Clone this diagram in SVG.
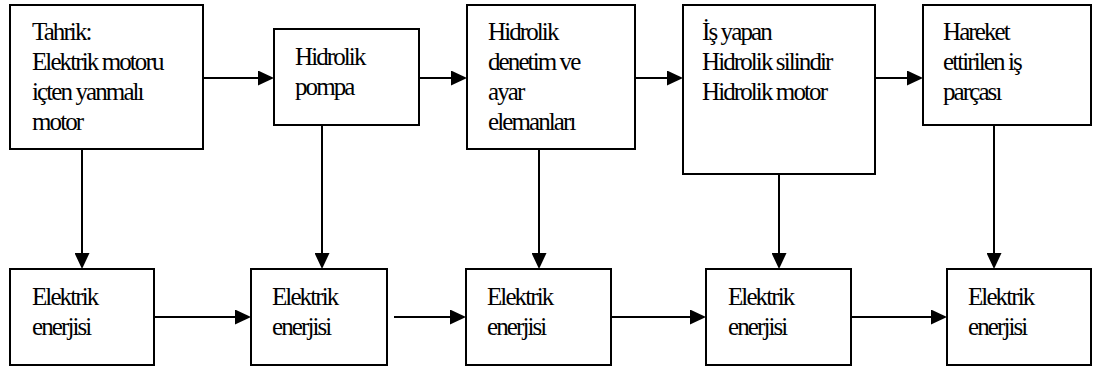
<svg xmlns="http://www.w3.org/2000/svg" width="1097" height="368" viewBox="0 0 1097 368">
  <style>
    .box { fill: #fff; stroke: #000; stroke-width: 2; }
    .lbl { font-family: 'Liberation Serif', 'Times New Roman', serif; font-size: 25px; letter-spacing: -1.9px; fill: #000; }
    .con { stroke: #000; stroke-width: 2; fill: none; marker-end: url(#arr); }
  </style>
  <defs>
    <marker id="arr" markerUnits="userSpaceOnUse" markerWidth="16" markerHeight="15" refX="6" refY="7.5" orient="auto">
      <path d="M0,0 L16,7.5 L0,15 Z" fill="#000"/>
    </marker>
  </defs>
  <rect width="1097" height="368" fill="#fff"/>

  <g id="connectors">
    <line class="con" x1="203" y1="78" x2="264" y2="78"/>
    <line class="con" x1="419" y1="78" x2="457" y2="78"/>
    <line class="con" x1="635" y1="78" x2="673" y2="78"/>
    <line class="con" x1="875" y1="78" x2="913" y2="78"/>
    <line class="con" x1="82" y1="149" x2="82" y2="259"/>
    <line class="con" x1="322" y1="125" x2="322" y2="259"/>
    <line class="con" x1="539" y1="149" x2="539" y2="259"/>
    <line class="con" x1="779" y1="174" x2="779" y2="259"/>
    <line class="con" x1="994" y1="125" x2="994" y2="259"/>
    <line class="con" x1="154" y1="317" x2="241" y2="317"/>
    <line class="con" x1="394" y1="317" x2="456" y2="317"/>
    <line class="con" x1="611" y1="317" x2="696" y2="317"/>
    <line class="con" x1="851" y1="317" x2="937" y2="317"/>
  </g>

  <g id="tahrik">
    <rect class="box" x="10" y="5" width="193" height="144"/>
    <text class="lbl" x="32" y="40">Tahrik:</text>
    <text class="lbl" x="32" y="70">Elektrik motoru</text>
    <text class="lbl" x="32" y="100">içten yanmalı</text>
    <text class="lbl" x="32" y="130">motor</text>
  </g>
  <g id="pompa">
    <rect class="box" x="274" y="29" width="145" height="96"/>
    <text class="lbl" x="295" y="65">Hidrolik</text>
    <text class="lbl" x="295" y="95">pompa</text>
  </g>
  <g id="denetim">
    <rect class="box" x="467" y="5" width="168" height="144"/>
    <text class="lbl" x="488" y="40">Hidrolik</text>
    <text class="lbl" x="488" y="70">denetim ve</text>
    <text class="lbl" x="488" y="100">ayar</text>
    <text class="lbl" x="488" y="130">elemanları</text>
  </g>
  <g id="isyapan">
    <rect class="box" x="683" y="5" width="192" height="169"/>
    <text class="lbl" x="702" y="40">İş yapan</text>
    <text class="lbl" x="702" y="70">Hidrolik silindir</text>
    <text class="lbl" x="702" y="100">Hidrolik motor</text>
  </g>
  <g id="parca">
    <rect class="box" x="923" y="5" width="168" height="120"/>
    <text class="lbl" x="943" y="40">Hareket</text>
    <text class="lbl" x="943" y="70">ettirilen iş</text>
    <text class="lbl" x="943" y="100">parçası</text>
  </g>

  <g id="enerji1">
    <rect class="box" x="10" y="269" width="144" height="96"/>
    <text class="lbl" x="32" y="305">Elektrik</text>
    <text class="lbl" x="32" y="335">enerjisi</text>
  </g>
  <g id="enerji2">
    <rect class="box" x="251" y="269" width="136" height="96"/>
    <text class="lbl" x="272" y="305">Elektrik</text>
    <text class="lbl" x="272" y="335">enerjisi</text>
  </g>
  <g id="enerji3">
    <rect class="box" x="466" y="269" width="145" height="96"/>
    <text class="lbl" x="487" y="305">Elektrik</text>
    <text class="lbl" x="487" y="335">enerjisi</text>
  </g>
  <g id="enerji4">
    <rect class="box" x="706" y="269" width="145" height="96"/>
    <text class="lbl" x="728" y="305">Elektrik</text>
    <text class="lbl" x="728" y="335">enerjisi</text>
  </g>
  <g id="enerji5">
    <rect class="box" x="947" y="269" width="144" height="96"/>
    <text class="lbl" x="968" y="305">Elektrik</text>
    <text class="lbl" x="968" y="335">enerjisi</text>
  </g>
</svg>
